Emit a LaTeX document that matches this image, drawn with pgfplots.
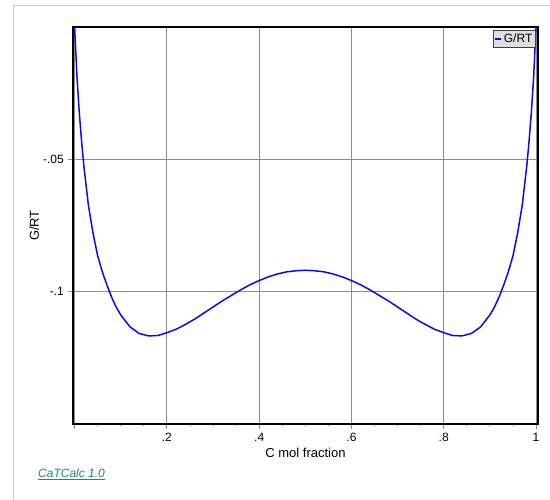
\documentclass[border=0pt]{standalone}
\usepackage{fontspec}
\setmainfont{Liberation Sans}
\usepackage{pgfplots}
\pgfplotsset{compat=1.18}
\definecolor{gridGray}{HTML}{8C8C8C}
\definecolor{frameGray}{HTML}{C8C8C8}
\definecolor{linkTeal}{HTML}{16878A}
\definecolor{curveBlue}{HTML}{0A0AF0}

\pgfplotstableread{
x      g
0.000  0.0000
0.005 -0.0185
0.010 -0.0320
0.015 -0.0430
0.020 -0.0525
0.030 -0.0675
0.040 -0.0780
0.050 -0.0865
0.060 -0.0925
0.070 -0.0975
0.080 -0.1020
0.090 -0.1058
0.100 -0.1088
0.120 -0.1133
0.140 -0.1158
0.160 -0.1167
0.180 -0.1166
0.200 -0.1155
0.220 -0.1142
0.240 -0.1124
0.260 -0.1104
0.280 -0.1081
0.300 -0.1058
0.320 -0.1035
0.340 -0.1014
0.360 -0.0993
0.380 -0.0974
0.400 -0.0958
0.420 -0.0944
0.440 -0.0933
0.460 -0.0925
0.480 -0.0921
0.500 -0.0919
0.520 -0.0921
0.540 -0.0925
0.560 -0.0933
0.580 -0.0944
0.600 -0.0958
0.620 -0.0974
0.640 -0.0993
0.660 -0.1014
0.680 -0.1035
0.700 -0.1058
0.720 -0.1081
0.740 -0.1104
0.760 -0.1124
0.780 -0.1142
0.800 -0.1155
0.820 -0.1166
0.840 -0.1167
0.860 -0.1158
0.880 -0.1133
0.900 -0.1088
0.910 -0.1058
0.920 -0.1020
0.930 -0.0975
0.940 -0.0925
0.950 -0.0865
0.960 -0.0780
0.970 -0.0675
0.980 -0.0525
0.985 -0.0430
0.990 -0.0320
0.995 -0.0185
1.000  0.0000
}\gibbs

\begin{document}
\fontsize{12}{14}\selectfont
\begin{tikzpicture}[x=1pt,y=1pt]
  \useasboundingbox (0,0) rectangle (550,500);
  % outer window frame
  \draw[frameGray, line width=1pt] (13,0) -- (13,494) -- (550,494);

  \begin{axis}[
    at={(73pt,76pt)}, anchor=south west,
    scale only axis, width=465pt, height=397pt,
    xmin=-0.0035, xmax=1.0043, ymin=-0.15, ymax=0,
    axis line style={black, line width=1.6pt},
    xtick={0,0.2,0.4,0.6,0.8,1},
    xticklabels={,.2,.4,.6,.8,1},
    minor x tick num=3,
    ytick={-0.1,-0.05},
    yticklabels={-.1,-.05},
    xtick pos=bottom, ytick pos=left,
    tick align=outside,
    major tick length=5pt, minor tick length=2.5pt,
    every tick/.style={gridGray, line width=0.8pt},
    grid=major,
    major grid style={gridGray, line width=0.9pt},
    tick label style={font=\fontsize{12}{14}\selectfont},
    xlabel={C mol fraction}, ylabel={G/RT},
    label style={font=\fontsize{13}{15}\selectfont},
    xlabel style={yshift=2pt},
    ylabel style={yshift=-4pt},
    legend style={at={(1,1)}, anchor=north east, xshift=-2pt, yshift=-3pt,
      fill=gray!25, draw=black!75, line width=0.9pt,
      font=\fontsize{12}{13}\selectfont, inner sep=1.2pt},
    legend image code/.code={\draw[#1] (0pt,0pt) -- (6pt,0pt);},
  ]
    \addplot[curveBlue, line width=1.5pt] table[x=x, y=g] {\gibbs};
    \addlegendentry{G/RT}
  \end{axis}

  \node[anchor=west, text=linkTeal, font=\fontsize{12}{14}\selectfont\itshape]
    at (34,26) {\underline{CaTCalc 1.0}};
\end{tikzpicture}
\end{document}
